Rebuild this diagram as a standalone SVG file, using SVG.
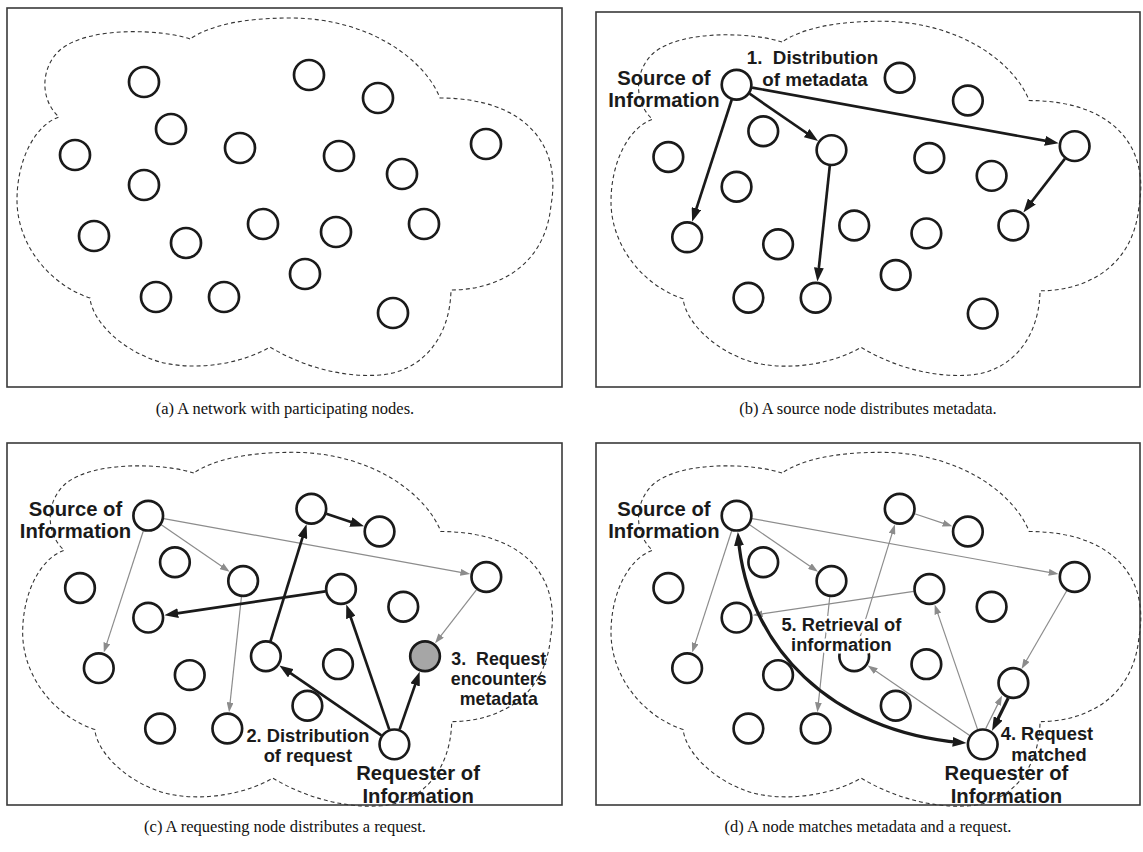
<svg xmlns="http://www.w3.org/2000/svg" xmlns:xlink="http://www.w3.org/1999/xlink" width="1143" height="852" viewBox="0 0 1143 852">
<style>
.frame{fill:none;stroke:#3a3a3a;stroke-width:1.6}
.cloud{fill:none;stroke:#333;stroke-width:1.1;stroke-dasharray:4 3}
.node circle{fill:#fff;stroke:#1a1a1a;stroke-width:2.7}
.node circle.hit{fill:#a6a6a6}
.blk{stroke:#1a1a1a;stroke-width:2.7;fill:none;marker-end:url(#ab)}
.thick{stroke-width:3.3}
.gry{stroke:#8c8c8c;stroke-width:1.2;fill:none;marker-end:url(#ag)}
.lbl{font-family:"Liberation Sans",Arial,sans-serif;font-weight:bold;fill:#1a1a1a;white-space:pre}
.halo{stroke:#fff;stroke-width:5;stroke-linejoin:round;paint-order:stroke}
.cap{font-family:"Liberation Serif","Times New Roman",serif;font-size:16.5px;fill:#111;text-anchor:middle}
.mid{text-anchor:middle}
</style>
<defs>
<marker id="ab" markerUnits="userSpaceOnUse" markerWidth="14" markerHeight="10" refX="8" refY="5" orient="auto-start-reverse"><path d="M0,0 L14,5 L0,10 z" fill="#1a1a1a"/></marker>
<marker id="ag" markerUnits="userSpaceOnUse" markerWidth="10" markerHeight="7" refX="6" refY="3.5" orient="auto"><path d="M0,0 L10,3.5 L0,7 z" fill="#8c8c8c"/></marker>
<path id="cloudP" d="M190,39 C165,30 90,25 60,50 C40,68 40,100 59,117 C35,125 17,160 17,200 C17,245 50,285 90,298 C92,320 120,350 160,362 C200,372 245,362 270,347 C300,365 340,378 380,375 C420,372 450,340 451,290 C495,290 545,268 551,205 C562,145 525,98 440,98 C425,60 370,18 290,18 C245,18 210,25 190,39 Z"/>
</defs>

<rect class="frame" x="7" y="8" width="555" height="379"/>
<rect class="frame" x="596" y="12" width="544" height="375"/>
<rect class="frame" x="7" y="443" width="555" height="362"/>
<rect class="frame" x="596" y="443" width="544" height="362"/>

<!-- Panel (a) -->
<g id="panel-a">
<use xlink:href="#cloudP" href="#cloudP" class="cloud"/>
<g id="a-n1" class="node"><circle cx="144" cy="82" r="15"/></g>
<g id="a-n2" class="node"><circle cx="309" cy="75" r="15"/></g>
<g id="a-n3" class="node"><circle cx="378" cy="98" r="15"/></g>
<g id="a-n4" class="node"><circle cx="171" cy="129" r="15"/></g>
<g id="a-n5" class="node"><circle cx="75" cy="155" r="15"/></g>
<g id="a-n6" class="node"><circle cx="240" cy="148" r="15"/></g>
<g id="a-n7" class="node"><circle cx="339" cy="156" r="15"/></g>
<g id="a-n8" class="node"><circle cx="402" cy="174" r="15"/></g>
<g id="a-n9" class="node"><circle cx="486" cy="144" r="15"/></g>
<g id="a-n10" class="node"><circle cx="144" cy="185" r="15"/></g>
<g id="a-n11" class="node"><circle cx="94" cy="236" r="15"/></g>
<g id="a-n12" class="node"><circle cx="186" cy="243" r="15"/></g>
<g id="a-n13" class="node"><circle cx="263" cy="224" r="15"/></g>
<g id="a-n14" class="node"><circle cx="336" cy="232" r="15"/></g>
<g id="a-n15" class="node"><circle cx="424" cy="224" r="15"/></g>
<g id="a-n16" class="node"><circle cx="305" cy="274" r="15"/></g>
<g id="a-n17" class="node"><circle cx="156" cy="297" r="15"/></g>
<g id="a-n18" class="node"><circle cx="224" cy="297" r="15"/></g>
<g id="a-n19" class="node"><circle cx="393" cy="313" r="15"/></g>
</g>

<!-- Panel (b) -->
<g id="panel-b" transform="matrix(0.9886,0,0,0.991,594.2,3.44)">
<use xlink:href="#cloudP" href="#cloudP" class="cloud"/>
<g id="b-connectors">
<line class="blk" x1="159.7" y1="84.9" x2="463.9" y2="140"/>
<line class="blk" x1="157.2" y1="91.1" x2="221.5" y2="135.3"/>
<line class="blk" x1="139.1" y1="97.2" x2="100.9" y2="214.6"/>
<line class="blk" x1="238.3" y1="163.9" x2="226.4" y2="274.6"/>
<line class="blk" x1="476.2" y1="156.6" x2="437.8" y2="206.2"/>
</g>
<g id="b-n1" class="node"><circle cx="144" cy="82" r="15"/></g>
<g id="b-n2" class="node"><circle cx="309" cy="75" r="15"/></g>
<g id="b-n3" class="node"><circle cx="378" cy="98" r="15"/></g>
<g id="b-n4" class="node"><circle cx="171" cy="129" r="15"/></g>
<g id="b-n5" class="node"><circle cx="75" cy="155" r="15"/></g>
<g id="b-n6" class="node"><circle cx="240" cy="148" r="15"/></g>
<g id="b-n7" class="node"><circle cx="339" cy="156" r="15"/></g>
<g id="b-n8" class="node"><circle cx="402" cy="174" r="15"/></g>
<g id="b-n9" class="node"><circle cx="486" cy="144" r="15"/></g>
<g id="b-n10" class="node"><circle cx="144" cy="185" r="15"/></g>
<g id="b-n11" class="node"><circle cx="94" cy="236" r="15"/></g>
<g id="b-n12" class="node"><circle cx="186" cy="243" r="15"/></g>
<g id="b-n13" class="node"><circle cx="263" cy="224" r="15"/></g>
<g id="b-n14" class="node"><circle cx="336" cy="232" r="15"/></g>
<g id="b-n15" class="node"><circle cx="424" cy="224" r="15"/></g>
<g id="b-n16" class="node"><circle cx="305" cy="274" r="15"/></g>
<g id="b-n17" class="node"><circle cx="156" cy="297" r="15"/></g>
<g id="b-n18" class="node"><circle cx="224" cy="297" r="15"/></g>
<g id="b-n19" class="node"><circle cx="393" cy="313" r="15"/></g>
<text class="lbl mid" font-size="20.5" y="82"><tspan x="70.5">Source of</tspan><tspan x="70.5" dy="22.5">Information</tspan></text>
<text class="lbl" font-size="19" y="61.5"><tspan x="154.3">1.  Distribution</tspan><tspan x="170" dy="21.5">of metadata</tspan></text>
</g>

<!-- Panel (c) -->
<g id="panel-c" transform="matrix(0.9886,0,0,0.99,5.86,434.5)">
<use xlink:href="#cloudP" href="#cloudP" class="cloud"/>
<g id="c-connectors">
<line class="gry" x1="159.7" y1="84.9" x2="465.8" y2="140.3"/>
<line class="gry" x1="157.2" y1="91.1" x2="223.1" y2="136.4"/>
<line class="gry" x1="139.1" y1="97.2" x2="100.3" y2="216.5"/>
<line class="gry" x1="238.3" y1="163.9" x2="226.2" y2="276.6"/>
<line class="gry" x1="476.2" y1="156.6" x2="436.6" y2="207.8"/>
<line class="blk" x1="398.3" y1="297.9" x2="416.6" y2="245.3"/>
<line class="blk" x1="379.8" y1="304" x2="281.6" y2="236.7"/>
<line class="blk" x1="387.8" y1="297.9" x2="346.3" y2="177.3"/>
<line class="blk" x1="267.7" y1="208.7" x2="302.4" y2="96.5"/>
<line class="blk" x1="324.2" y1="80.1" x2="356.6" y2="90.9"/>
<line class="blk" x1="323.2" y1="158.4" x2="166.3" y2="181.7"/>
</g>
<g id="c-n1" class="node"><circle cx="144" cy="82" r="15"/></g>
<g id="c-n2" class="node"><circle cx="309" cy="75" r="15"/></g>
<g id="c-n3" class="node"><circle cx="378" cy="98" r="15"/></g>
<g id="c-n4" class="node"><circle cx="171" cy="129" r="15"/></g>
<g id="c-n5" class="node"><circle cx="75" cy="155" r="15"/></g>
<g id="c-n6" class="node"><circle cx="240" cy="148" r="15"/></g>
<g id="c-n7" class="node"><circle cx="339" cy="156" r="15"/></g>
<g id="c-n8" class="node"><circle cx="402" cy="174" r="15"/></g>
<g id="c-n9" class="node"><circle cx="486" cy="144" r="15"/></g>
<g id="c-n10" class="node"><circle cx="144" cy="185" r="15"/></g>
<g id="c-n11" class="node"><circle cx="94" cy="236" r="15"/></g>
<g id="c-n12" class="node"><circle cx="186" cy="243" r="15"/></g>
<g id="c-n13" class="node"><circle cx="263" cy="224" r="15"/></g>
<g id="c-n14" class="node"><circle cx="336" cy="232" r="15"/></g>
<g id="c-n15" class="node"><circle class="hit" cx="424" cy="224" r="15"/></g>
<g id="c-n16" class="node"><circle cx="305" cy="274" r="15"/></g>
<g id="c-n17" class="node"><circle cx="156" cy="297" r="15"/></g>
<g id="c-n18" class="node"><circle cx="224" cy="297" r="15"/></g>
<g id="c-n19" class="node"><circle cx="393" cy="313" r="15"/></g>
<text class="lbl mid" font-size="20.5" y="82"><tspan x="70.5">Source of</tspan><tspan x="70.5" dy="22.5">Information</tspan></text>
<text class="lbl mid" font-size="18.5" y="310.5"><tspan x="305.5">2. Distribution</tspan><tspan x="305.5" dy="20.8">of request</tspan></text>
<text class="lbl mid" font-size="18" y="232.5"><tspan x="498.6">3.  Request</tspan><tspan x="498.6" dy="20.2">encounters</tspan><tspan x="498.6" dy="20.2">metadata</tspan></text>
<text class="lbl mid" font-size="20.5" y="349.5"><tspan x="417">Requester of</tspan><tspan x="417" dy="23">Information</tspan></text>
</g>

<!-- Panel (d) -->
<g id="panel-d" transform="matrix(0.9886,0,0,0.99,594.2,434.5)">
<use xlink:href="#cloudP" href="#cloudP" class="cloud"/>
<g id="d-connectors">
<line class="gry" x1="159.7" y1="84.9" x2="465.8" y2="140.3"/>
<line class="gry" x1="157.2" y1="91.1" x2="223.1" y2="136.4"/>
<line class="gry" x1="139.1" y1="97.2" x2="100.3" y2="216.5"/>
<line class="gry" x1="238.3" y1="163.9" x2="226.2" y2="276.6"/>
<line class="gry" x1="478" y1="157.8" x2="434.3" y2="233.3"/>
<line class="gry" x1="379.8" y1="304" x2="280" y2="235.6"/>
<line class="gry" x1="387.8" y1="297.9" x2="345.7" y2="175.4"/>
<line class="gry" x1="267.7" y1="208.7" x2="303" y2="94.6"/>
<line class="gry" x1="324.2" y1="80.1" x2="358.5" y2="91.5"/>
<line class="gry" x1="323.2" y1="158.4" x2="164.3" y2="182"/>
<line class="gry" x1="396.2" y1="296.7" x2="410.8" y2="267.3"/>
<line class="blk thick" x1="418.8" y1="266.3" x2="405.1" y2="293.9"/>
<path class="blk thick" marker-start="url(#ab)" d="M145.8,104.4 C155,215 240,300 370.6,311.2"/>
</g>
<g id="d-n1" class="node"><circle cx="144" cy="82" r="15"/></g>
<g id="d-n2" class="node"><circle cx="309" cy="75" r="15"/></g>
<g id="d-n3" class="node"><circle cx="378" cy="98" r="15"/></g>
<g id="d-n4" class="node"><circle cx="171" cy="129" r="15"/></g>
<g id="d-n5" class="node"><circle cx="75" cy="155" r="15"/></g>
<g id="d-n6" class="node"><circle cx="240" cy="148" r="15"/></g>
<g id="d-n7" class="node"><circle cx="339" cy="156" r="15"/></g>
<g id="d-n8" class="node"><circle cx="402" cy="174" r="15"/></g>
<g id="d-n9" class="node"><circle cx="486" cy="144" r="15"/></g>
<g id="d-n10" class="node"><circle cx="144" cy="185" r="15"/></g>
<g id="d-n11" class="node"><circle cx="94" cy="236" r="15"/></g>
<g id="d-n12" class="node"><circle cx="186" cy="243" r="15"/></g>
<g id="d-n13" class="node"><circle cx="263" cy="224" r="15"/></g>
<g id="d-n14" class="node"><circle cx="336" cy="232" r="15"/></g>
<g id="d-n15" class="node"><circle cx="424" cy="251" r="15"/></g>
<g id="d-n16" class="node"><circle cx="305" cy="274" r="15"/></g>
<g id="d-n17" class="node"><circle cx="156" cy="297" r="15"/></g>
<g id="d-n18" class="node"><circle cx="224" cy="297" r="15"/></g>
<g id="d-n19" class="node"><circle cx="393" cy="313" r="15"/></g>
<text class="lbl mid" font-size="20.5" y="82"><tspan x="70.5">Source of</tspan><tspan x="70.5" dy="22.5">Information</tspan></text>
<text class="lbl mid halo" font-size="18.5" y="198"><tspan x="250">5. Retrieval of</tspan><tspan x="250" dy="20.8">information</tspan></text>
<text class="lbl mid" font-size="18.5" y="309"><tspan x="458">4. Request</tspan><tspan x="460" dy="20.8">matched</tspan></text>
<text class="lbl mid" font-size="20.5" y="349.5"><tspan x="417">Requester of</tspan><tspan x="417" dy="23">Information</tspan></text>
</g>

<text class="cap" x="285" y="414">(a) A network with participating nodes.</text>
<text class="cap" x="868" y="414">(b) A source node distributes metadata.</text>
<text class="cap" x="285" y="832">(c) A requesting node distributes a request.</text>
<text class="cap" x="868" y="832">(d) A node matches metadata and a request.</text>
</svg>
